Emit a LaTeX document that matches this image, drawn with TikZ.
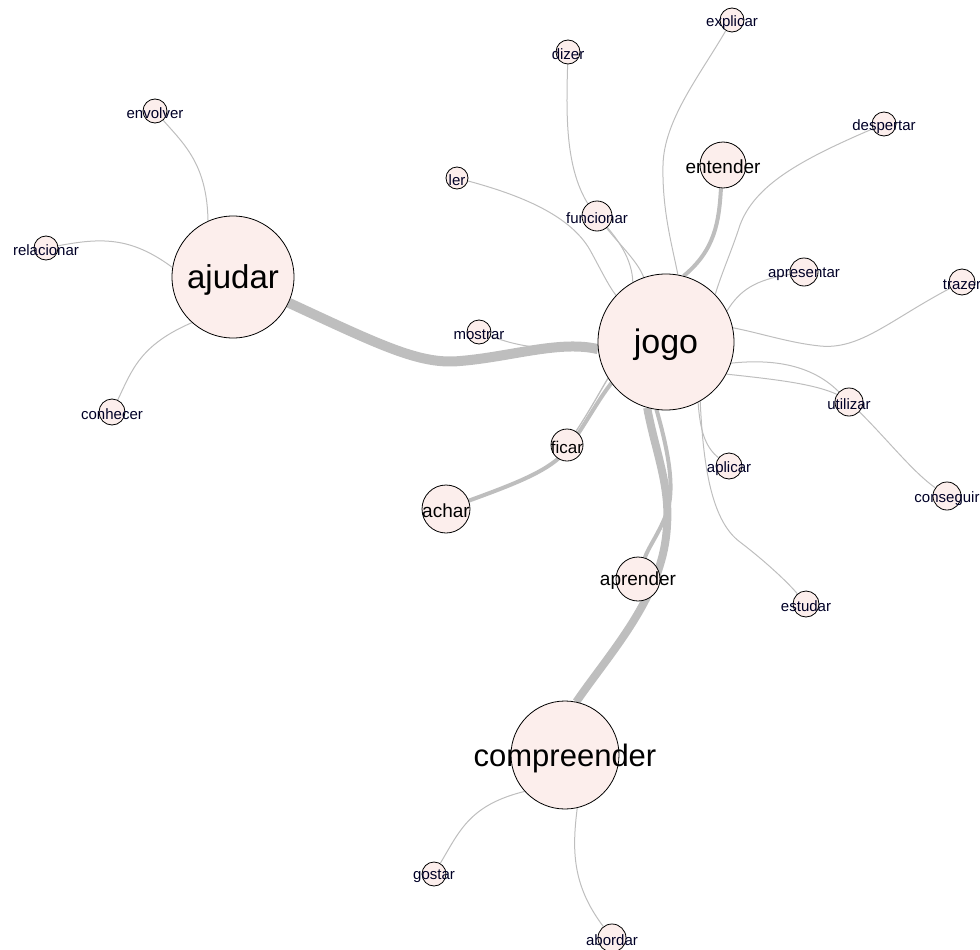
\documentclass[tikz,border=0pt]{standalone}
\usepackage{fontspec}
\setmainfont{Liberation Sans}
\usetikzlibrary{backgrounds}
\definecolor{nodefill}{RGB}{252,238,236}
\definecolor{edgegray}{RGB}{190,190,190}
\begin{document}
\begin{tikzpicture}[x=1pt,y=-1pt,
  vnode/.style={circle,draw=black,line width=0.8pt,fill=nodefill,inner sep=0pt,minimum size=#1},
  edge/.style={draw=edgegray,line width=1pt},
  thickedge/.style={draw=edgegray,line width=#1},
  lblbig/.style={font=\fontsize{#1}{#1}\selectfont,text=black,inner sep=0pt,yshift=-3pt},
  lblmid/.style={font=\fontsize{19}{19}\selectfont,text=black,inner sep=0pt,yshift=-2pt},
  lblsmall/.style={font=\fontsize{15}{15}\selectfont,text=black!85!blue,inner sep=0pt,yshift=-2.5pt}]
\useasboundingbox (0,0) rectangle (980,950);

% big nodes
\node[vnode=136pt,label={[lblbig=34]center:jogo}] (jogo) at (666,342) {};
\node[vnode=122pt,label={[lblbig=33]center:ajudar}] (ajudar) at (233,277) {};
\node[vnode=108pt,label={[lblbig=31]center:compreender}] (compreender) at (565,755) {};
% medium nodes
\node[vnode=46pt,label={[lblmid]center:entender}] (entender) at (723,165) {};
\node[vnode=48pt,label={[lblmid]center:achar}] (achar) at (446,509) {};
\node[vnode=44pt,label={[lblmid]center:aprender}] (aprender) at (638,579) {};
\node[vnode=32pt,label={[lblmid,font=\fontsize{17}{17}\selectfont]center:ficar}] (ficar) at (567,445) {};
% small nodes
\node[vnode=30pt,label={[lblsmall]center:funcionar}] (funcionar) at (597,216) {};
\node[vnode=24pt,label={[lblsmall]center:dizer}] (dizer) at (568,52) {};
\node[vnode=22pt,label={[lblsmall]center:ler}] (ler) at (457,178) {};
\node[vnode=24pt,label={[lblsmall]center:explicar}] (explicar) at (732,20) {};
\node[vnode=24pt,label={[lblsmall]center:despertar}] (despertar) at (884,124) {};
\node[vnode=28pt,label={[lblsmall]center:apresentar}] (apresentar) at (804,272) {};
\node[vnode=26pt,label={[lblsmall]center:trazer}] (trazer) at (962,282) {};
\node[vnode=24pt,label={[lblsmall]center:mostrar}] (mostrar) at (479,332) {};
\node[vnode=28pt,label={[lblsmall]center:utilizar}] (utilizar) at (849,402) {};
\node[vnode=26pt,label={[lblsmall]center:aplicar}] (aplicar) at (729,466) {};
\node[vnode=28pt,label={[lblsmall]center:conseguir}] (conseguir) at (947,496) {};
\node[vnode=26pt,label={[lblsmall]center:estudar}] (estudar) at (806,604) {};
\node[vnode=24pt,label={[lblsmall]center:envolver}] (envolver) at (155,111) {};
\node[vnode=24pt,label={[lblsmall]center:relacionar}] (relacionar) at (46,248) {};
\node[vnode=26pt,label={[lblsmall]center:conhecer}] (conhecer) at (112,412) {};
\node[vnode=24pt,label={[lblsmall]center:gostar}] (gostar) at (434,874) {};
\node[vnode=28pt,label={[lblsmall]center:abordar}] (abordar) at (612,938) {};

\begin{scope}[on background layer]
% thick edges
\draw[thickedge=10pt] (ajudar) .. controls (380,345) and (420,365) .. (460,361)
   .. controls (510,357) and (560,340) .. (jogo.186);
\draw[thickedge=8pt] (jogo.254) .. controls (655,450) and (670,485) .. (667,525)
   .. controls (664,595) and (612,650) .. (compreender.78);
\draw[thickedge=4pt] (jogo.262) .. controls (668,450) and (676,490) .. (666,515)
   .. controls (658,535) and (648,548) .. (aprender);
\draw[thickedge=4pt] (achar) .. controls (520,482) and (550,470) .. (567,450)
   .. controls (585,425) and (598,400) .. (jogo.217);
\draw[thickedge=4pt] (entender.265) .. controls (719,222) and (715,250) .. (jogo.75);
% thin edges around jogo
\draw[edge,line width=1.3pt] (ficar) .. controls (590,410) and (598,395) .. (jogo.212);
\draw[edge] (explicar) .. controls (700,75) and (664,120) .. (663,165)
   .. controls (662,210) and (672,245) .. (jogo.80);
\draw[edge] (despertar) .. controls (800,160) and (755,185) .. (740,225)
   .. controls (732,250) and (722,272) .. (jogo.44);
\draw[edge] (apresentar) .. controls (755,280) and (740,290) .. (jogo.27);
\draw[edge] (trazer) .. controls (890,320) and (860,350) .. (820,346)
   .. controls (790,343) and (760,333) .. (jogo.12);
\draw[edge] (jogo.-18) .. controls (780,358) and (815,368) .. (utilizar);
\draw[edge] (jogo.-28) .. controls (780,380) and (830,385) .. (849,402)
   .. controls (880,430) and (910,470) .. (conseguir);
\draw[edge] (jogo.-62) .. controls (700,430) and (705,447) .. (aplicar);
\draw[edge] (jogo.-60) .. controls (703,460) and (710,520) .. (740,542)
   .. controls (770,565) and (790,585) .. (estudar);
\draw[edge] (dizer) .. controls (566,120) and (565,180) .. (597,216)
   .. controls (620,240) and (632,260) .. (jogo.119);
\draw[edge] (funcionar) .. controls (620,245) and (638,262) .. (jogo.109);
\draw[edge] (ler) .. controls (520,195) and (570,215) .. (590,250)
   .. controls (600,268) and (608,285) .. (jogo.137);
\draw[edge] (mostrar) .. controls (515,345) and (540,352) .. (jogo.183);
% ajudar
\draw[edge] (envolver) .. controls (185,145) and (207,165) .. (ajudar.114);
\draw[edge] (relacionar) .. controls (100,238) and (130,236) .. (ajudar.171);
\draw[edge] (conhecer) .. controls (132,370) and (140,345) .. (ajudar.228);
% compreender
\draw[edge] (gostar) .. controls (460,830) and (470,805) .. (compreender.222);
\draw[edge] (compreender.283) .. controls (572,850) and (572,885) .. (abordar);
\end{scope}
\end{tikzpicture}
\end{document}
